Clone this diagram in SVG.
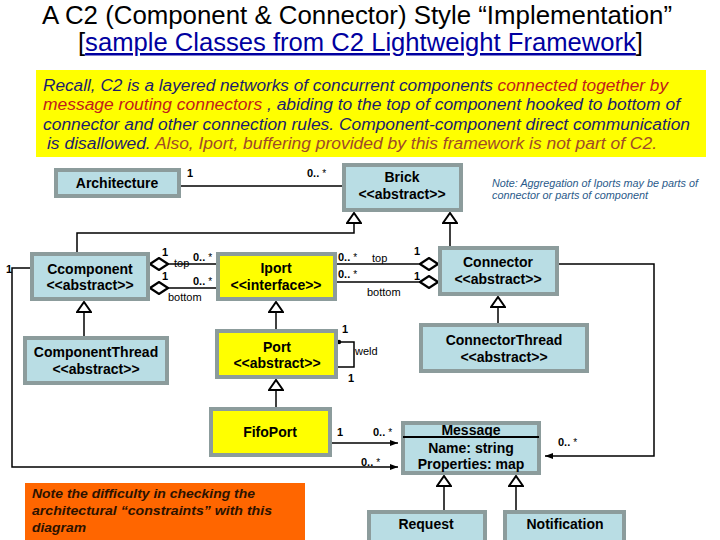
<svg xmlns="http://www.w3.org/2000/svg" width="720" height="540" viewBox="0 0 720 540">
<style>
text{font-family:'Liberation Sans',Arial,sans-serif}
.nb{fill:#b9dde4;stroke:#8c9c9c;stroke-width:4}
.ny{fill:#ffff00;stroke:#8c9c9c;stroke-width:4}
.nt{font-size:14px;font-weight:bold;text-anchor:middle;fill:#000}
.ln{fill:none;stroke:#000;stroke-width:1.5}
.m{font-size:11px;font-weight:bold;fill:#000}
.ms{font-weight:normal;font-size:10px}
.r{font-size:11px;fill:#000}
.yt{font-size:16px;font-style:italic}
.bl{fill:#1c1c6c}
.rd{fill:#c0201c}
.br{fill:#a04a28}
</style>
<defs>
<marker id="gen" viewBox="0 0 12 16" refX="11" refY="8" markerWidth="12" markerHeight="16" orient="auto" markerUnits="userSpaceOnUse"><path d="M1,1 L11,8 L1,15 Z" fill="#fff" stroke="#000" stroke-width="2"/></marker>
<marker id="dia" viewBox="0 0 20 14" refX="1" refY="7" markerWidth="20" markerHeight="14" orient="auto" markerUnits="userSpaceOnUse"><path d="M1,7 L10,1 L19,7 L10,13 Z" fill="#fff" stroke="#000" stroke-width="2.2"/></marker>
<marker id="arr" viewBox="0 0 8 8" refX="8" refY="4" markerWidth="8" markerHeight="8" orient="auto" markerUnits="userSpaceOnUse"><path d="M0,1 L8,4 L0,7 Z" fill="#000"/></marker>
</defs>
<rect width="720" height="540" fill="#fff"/>
<g id="title">
<text x="42" y="24" font-size="25" textLength="630" lengthAdjust="spacingAndGlyphs">A C2 (Component &amp; Connector) Style “Implementation”</text>
<text x="78" y="51" font-size="25" textLength="565" lengthAdjust="spacingAndGlyphs">[<tspan fill="#0000a0" text-decoration="underline">sample Classes from C2 Lightweight Framework</tspan>]</text>
</g>
<g id="recall">
<rect x="36" y="70" width="670" height="87" fill="#ffff00"/>
<text class="yt" x="43" y="91" textLength="625" lengthAdjust="spacingAndGlyphs"><tspan class="bl">Recall, C2 is a layered networks of concurrent components </tspan><tspan class="rd">connected together by</tspan></text>
<text class="yt" x="43" y="110" textLength="637" lengthAdjust="spacingAndGlyphs"><tspan class="rd">message routing connectors</tspan><tspan class="bl"> , abiding to the top of component hooked to bottom of</tspan></text>
<text class="yt bl" x="43" y="130" textLength="647" lengthAdjust="spacingAndGlyphs">connector and other connection rules. Component-component direct communication</text>
<text class="yt" x="47" y="149" textLength="610" lengthAdjust="spacingAndGlyphs"><tspan class="bl">is disallowed.</tspan><tspan class="br"> Also, Iport, buffering provided by this framework is not part of C2.</tspan></text>
</g>
<g id="connectors">
<path class="ln" d="M181,186 H342"/>
<path class="ln" d="M77,252 V233 H354 V213" marker-end="url(#gen)"/>
<path class="ln" d="M450,246 V213" marker-end="url(#gen)"/>
<path class="ln" d="M84,336 V302" marker-end="url(#gen)"/>
<path class="ln" d="M276,329 V302" marker-end="url(#gen)"/>
<path class="ln" d="M276,407 V380" marker-end="url(#gen)"/>
<path class="ln" d="M498,323 V297" marker-end="url(#gen)"/>
<path class="ln" d="M444,510 V476" marker-end="url(#gen)"/>
<path class="ln" d="M516,510 V476" marker-end="url(#gen)"/>
<path class="ln" d="M150,264 H216" marker-start="url(#dia)"/>
<path class="ln" d="M150,288 H216" marker-start="url(#dia)"/>
<path class="ln" d="M438,264 H337" marker-start="url(#dia)"/>
<path class="ln" d="M438,282 H337" marker-start="url(#dia)"/>
<path class="ln" d="M559,264 H654 V456 H545" marker-end="url(#arr)"/>
<path class="ln" d="M332,443 H398" marker-end="url(#arr)"/>
<path class="ln" d="M30,268 H12 V467 H398" marker-end="url(#arr)"/>
<path class="ln" d="M338,367 H354 V342 H339" stroke-width="1.8"/>
<circle cx="339" cy="342" r="2.2" fill="#000"/>
<text class="m" x="187" y="177">1</text>
<text class="m" x="307" y="177">0.. <tspan class="ms">*</tspan></text>
<text class="m" x="162" y="256">1</text>
<text class="r" x="174" y="267">top</text>
<text class="m" x="193" y="261">0.. <tspan class="ms">*</tspan></text>
<text class="m" x="162" y="280">1</text>
<text class="m" x="193" y="285">0.. <tspan class="ms">*</tspan></text>
<text class="r" x="168" y="301">bottom</text>
<text class="m" x="338" y="261">0.. <tspan class="ms">*</tspan></text>
<text class="r" x="372" y="262">top</text>
<text class="m" x="414" y="255">1</text>
<text class="m" x="338" y="278">0.. <tspan class="ms">*</tspan></text>
<text class="m" x="414" y="280">1</text>
<text class="r" x="367" y="296">bottom</text>
<text class="m" x="342" y="333">1</text>
<text class="r" x="355" y="355" font-size="10">weld</text>
<text class="m" x="348" y="382">1</text>
<text class="m" x="337" y="436">1</text>
<text class="m" x="373" y="436">0.. <tspan class="ms">*</tspan></text>
<text class="m" x="6" y="273">1</text>
<text class="m" x="361" y="466">0.. <tspan class="ms">*</tspan></text>
<text class="m" x="558" y="446">0.. <tspan class="ms">*</tspan></text>
</g>
<g id="architecture"><rect class="nb" x="56" y="170" width="123" height="26"/><text class="nt" x="117" y="188">Architecture</text></g>
<g id="brick"><rect class="nb" x="344" y="165" width="117" height="45"/><text class="nt" x="402" y="182">Brick</text><text class="nt" x="402" y="199">&lt;&lt;abstract&gt;&gt;</text></g>
<g id="ccomponent"><rect class="nb" x="32" y="254" width="116" height="45"/><text class="nt" x="90" y="274">Ccomponent</text><text class="nt" x="90" y="290">&lt;&lt;abstract&gt;&gt;</text></g>
<g id="iport"><rect class="ny" x="218" y="254" width="117" height="45"/><text class="nt" x="276" y="273">Iport</text><text class="nt" x="276" y="290">&lt;&lt;interface&gt;&gt;</text></g>
<g id="connector"><rect class="nb" x="440" y="248" width="117" height="46"/><text class="nt" x="498" y="267">Connector</text><text class="nt" x="498" y="284">&lt;&lt;abstract&gt;&gt;</text></g>
<g id="componentthread"><rect class="nb" x="25" y="338" width="142" height="45"/><text class="nt" x="96" y="357">ComponentThread</text><text class="nt" x="96" y="374">&lt;&lt;abstract&gt;&gt;</text></g>
<g id="port"><rect class="ny" x="217" y="331" width="119" height="46"/><text class="nt" x="277" y="352">Port</text><text class="nt" x="277" y="368">&lt;&lt;abstract&gt;&gt;</text></g>
<g id="fifoport"><rect class="ny" x="211" y="409" width="119" height="46"/><text class="nt" x="270" y="437">FifoPort</text></g>
<g id="connectorthread"><rect class="nb" x="421" y="325" width="166" height="46"/><text class="nt" x="504" y="345">ConnectorThread</text><text class="nt" x="504" y="362">&lt;&lt;abstract&gt;&gt;</text></g>
<g id="message"><rect class="nb" x="403" y="423" width="136" height="50"/><line x1="403" y1="437" x2="539" y2="437" stroke="#000" stroke-width="2"/><text class="nt" x="471" y="435">Message</text><text class="nt" x="471" y="453">Name: string</text><text class="nt" x="471" y="469">Properties: map</text></g>
<g id="request"><rect class="nb" x="369" y="512" width="116" height="34"/><text class="nt" x="426" y="529">Request</text></g>
<g id="notification"><rect class="nb" x="505" y="512" width="119" height="34"/><text class="nt" x="565" y="529">Notification</text></g>
<g id="note-aggregation">
<text x="492" y="187" font-size="10.5" font-style="italic" fill="#2a5a8a" textLength="206" lengthAdjust="spacingAndGlyphs">Note: Aggregation of Iports may be parts of</text>
<text x="492" y="199" font-size="10.5" font-style="italic" fill="#2a5a8a" textLength="156" lengthAdjust="spacingAndGlyphs">connector or parts of component</text>
</g>
<g id="note-difficulty">
<rect x="25" y="483" width="280" height="57" fill="#ff6600"/>
<text x="32" y="498" font-size="13.5" font-weight="bold" font-style="italic" fill="#2b1200" textLength="223" lengthAdjust="spacingAndGlyphs">Note the difficulty in checking the</text>
<text x="32" y="515" font-size="13.5" font-weight="bold" font-style="italic" fill="#2b1200" textLength="240" lengthAdjust="spacingAndGlyphs">architectural  “constraints” with this</text>
<text x="32" y="532" font-size="13.5" font-weight="bold" font-style="italic" fill="#2b1200" textLength="54" lengthAdjust="spacingAndGlyphs">diagram</text>
</g>
</svg>
